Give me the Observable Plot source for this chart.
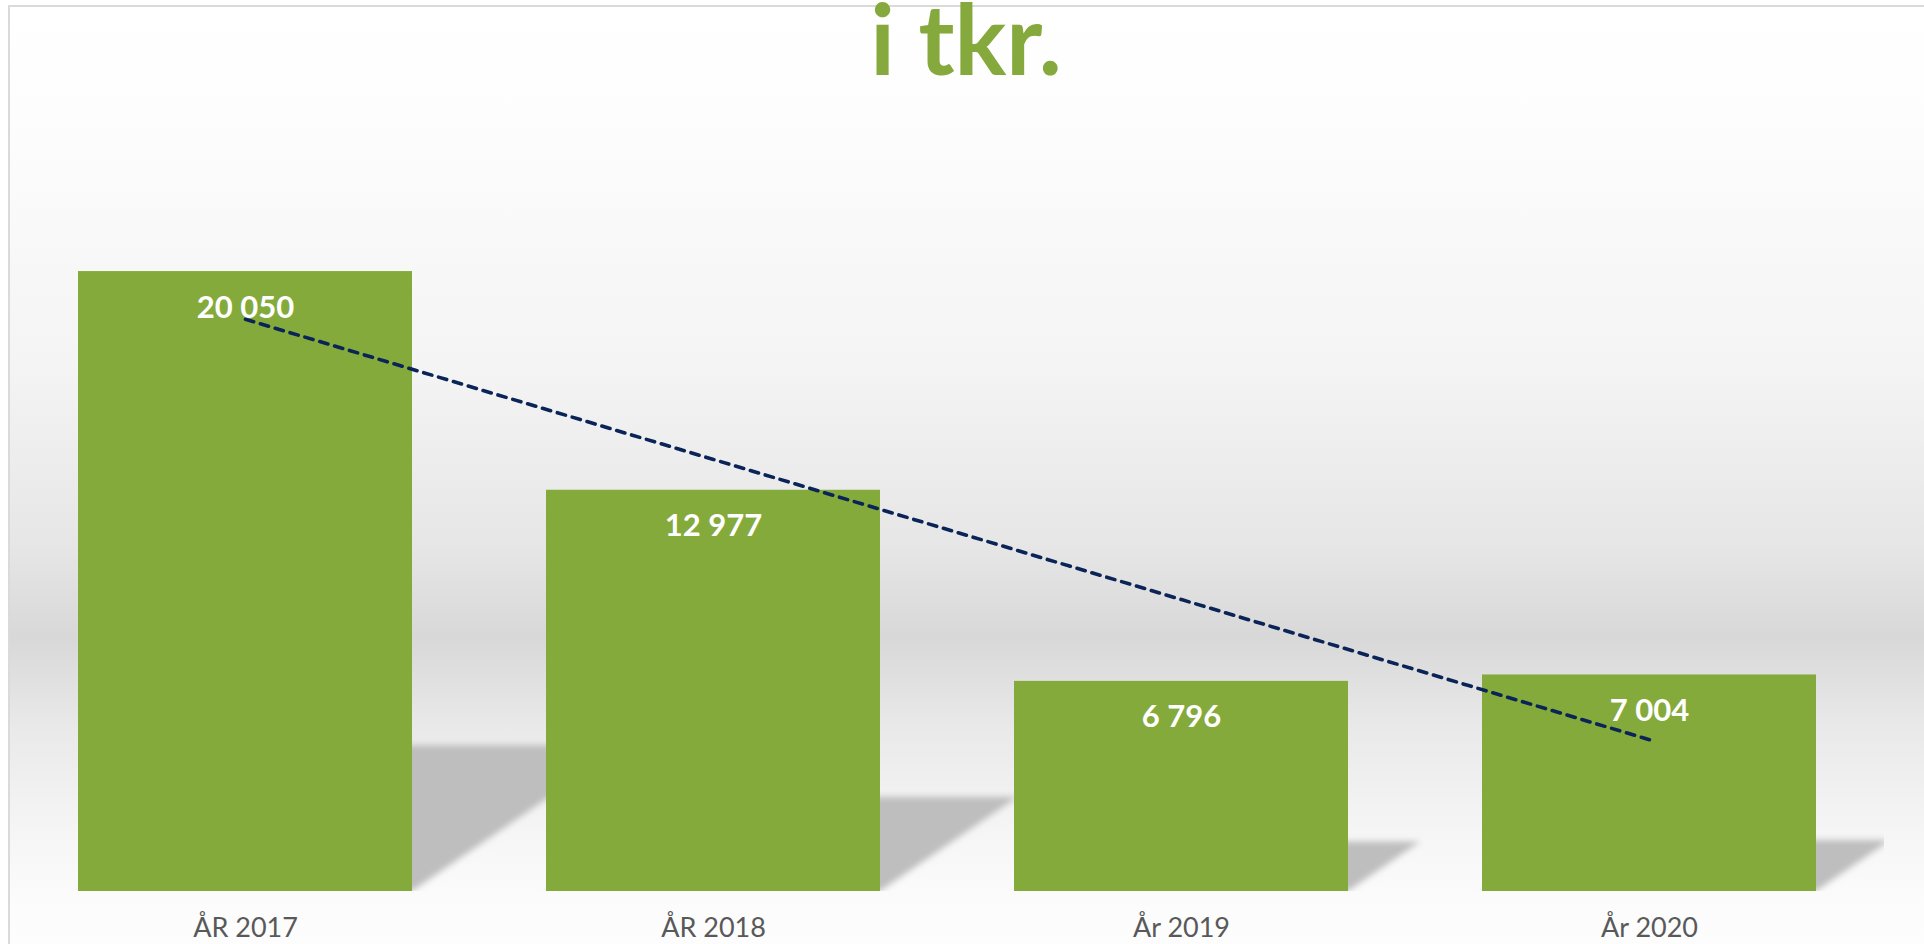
<!DOCTYPE html>
<html>
<head>
<meta charset="utf-8">
<script src="https://cdn.jsdelivr.net/npm/d3@7"></script>
<script src="https://cdn.jsdelivr.net/npm/@observablehq/plot@0.6"></script>
<style>
  html, body { margin: 0; padding: 0; background: #ffffff; }
  #chart { position: relative; width: 1924px; height: 944px; overflow: hidden; }
  #bg {
    position: absolute; left: 8px; top: 5px; width: 1914px; height: 939px;
    border-top: 2px solid #dadada; border-left: 2px solid #dadada; border-right: 1px solid #e4e4e4;
    background: linear-gradient(to bottom, #ffffff 0px, #fdfdfd 110px, #f4f4f4 360px, #e6e6e6 540px, #d8d8d8 630px, #e9e9e9 720px, #f6f6f6 830px, #fcfcfc 900px, #fdfdfd 937px);
  }
  #plot { position: absolute; left: 0; top: 0; }
  #title {
    position: absolute; left: 9px; width: 1914px; top: 0px; text-align: center;
    font-family: Lato, "Open Sans", sans-serif; font-weight: bold; font-size: 97px; line-height: 76px;
    color: #85a93c; white-space: nowrap;
  }
</style>
</head>
<body>
<div id="chart">
  <div id="bg"></div>
  <div id="plot"></div>
  <div id="title">i tkr.</div>
</div>
<script>
// ---- data ----
const years = ["ÅR 2017", "ÅR 2018", "År 2019", "År 2020"];
const values = [20050, 12977, 6796, 7004];

// ---- derived ----
const data = years.map((year, i) => ({year, value: values[i], i}));
// linear trendline (least squares), like the spreadsheet trendline
const mx = d3.mean(data, d => d.i), my = d3.mean(values);
const slope = d3.sum(data, d => (d.i - mx) * (d.value - my)) / d3.sum(data, d => (d.i - mx) ** 2);
const trend = data.map(d => ({year: d.year, trend: my + slope * (d.i - mx)}));

const fmt = d3.formatLocale({decimal: ",", thousands: " ", grouping: [3], currency: ["", " kr"]}).format(",d");

const W = 1924, H = 944;
const marginLeft = 11, marginRight = 40, marginTop = 118, marginBottom = 53;
const SHADOW = "#bebebe";

const plot = Plot.plot({
  width: W,
  height: H,
  marginLeft, marginRight, marginTop, marginBottom,
  style: {background: "transparent", fontFamily: "Lato, 'Open Sans', sans-serif", fontSize: "27px", color: "#595959", overflow: "visible"},
  x: {domain: years, paddingInner: 0.4 / 1.4, paddingOuter: 0.2 / 1.4, align: 0.5, tickSize: 0, tickPadding: 26, label: null},
  y: {domain: [0, 25000], axis: null},
  marks: [
    // floor shadows (sheared copy of the bars, transformed below)
    Plot.barY(data, {x: "year", y: "value", fill: SHADOW}),
    Plot.barY(data, {x: "year", y: "value", fill: "#85aa3c"}),
    Plot.line(trend, {x: "year", y: "trend", stroke: "#0a2458", strokeWidth: 3.6, strokeDasharray: "8.5,7", strokeLinecap: "round"}),
    Plot.text(data, {x: "year", y: "value", text: d => fmt(d.value), fill: "white", fontWeight: "bold", fontSize: 31, lineAnchor: "bottom", dy: 46})
  ]
});

// shear the shadow bars onto the "floor" using the plot's y scale
const svgNS = "http://www.w3.org/2000/svg";
const base = plot.scale("y").apply(0);
const k = 0.235, s = 1.46;
let sh = [...plot.querySelectorAll("g")].find(g => (g.getAttribute("fill") || "").toLowerCase() === SHADOW);
if (!sh) {
  const r = [...plot.querySelectorAll("rect")].find(r => (r.getAttribute("fill") || "").toLowerCase() === SHADOW);
  if (r) sh = r.parentNode;
}
if (sh) {
  const defs = document.createElementNS(svgNS, "defs");
  defs.innerHTML = `<filter id="shblur" x="-20%" y="-20%" width="140%" height="140%"><feGaussianBlur stdDeviation="3.2"/></filter>
    <clipPath id="shclip"><rect x="${marginLeft}" y="${marginTop}" width="${W - marginLeft - marginRight}" height="${H - marginTop - marginBottom}"/></clipPath>`;
  plot.insertBefore(defs, plot.firstChild);
  const outer = document.createElementNS(svgNS, "g");
  outer.setAttribute("clip-path", "url(#shclip)");
  const mid = document.createElementNS(svgNS, "g");
  mid.setAttribute("filter", "url(#shblur)");
  sh.parentNode.insertBefore(outer, sh);
  outer.appendChild(mid);
  mid.appendChild(sh);
  sh.setAttribute("transform", `matrix(1 0 ${-s * k} ${k} ${s * k * base} ${base * (1 - k)})`);
}

document.getElementById("plot").appendChild(plot);
</script>
</body>
</html>
